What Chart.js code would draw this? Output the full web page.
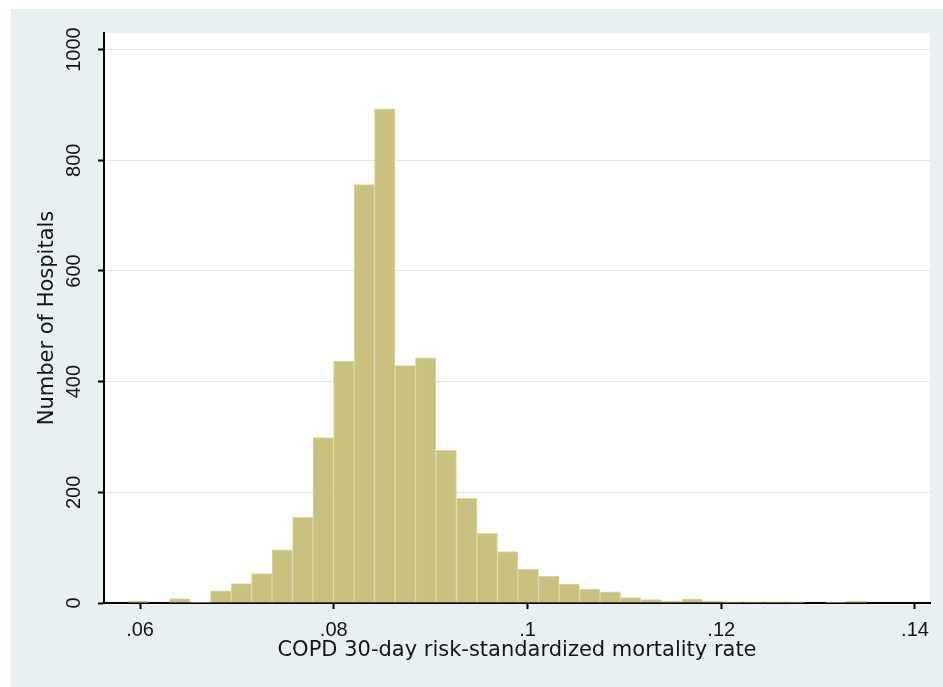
<!DOCTYPE html>
<html>
<head>
<meta charset="utf-8">
<script src="https://cdn.jsdelivr.net/npm/chart.js@4.4.1/dist/chart.umd.min.js"></script>
<style>
  html, body { margin: 0; padding: 0; background: #ffffff; }
  #frame {
    position: absolute;
    left: 11px;
    top: 9px;
    width: 932px;
    height: 678px;
    background: #e9f0f2;
  }
  canvas { display: block; }
</style>
</head>
<body>
<div id="frame"><canvas id="histChart" width="932" height="678"></canvas></div>
<script>
// Bin midpoints (30-day mortality rate)
const binMids = [
  0.05987, 0.06198, 0.06410, 0.06622, 0.06833, 0.07045, 0.07257, 0.07468,
  0.07680, 0.07891, 0.08103, 0.08315, 0.08526, 0.08738, 0.08949, 0.09161,
  0.09373, 0.09584, 0.09796, 0.10007, 0.10219, 0.10431, 0.10642, 0.10854,
  0.11065, 0.11277, 0.11489, 0.11700, 0.11912, 0.12123, 0.12335, 0.12547,
  0.12758, 0.12970, 0.13181, 0.13393, 0.13605
];

// Number of hospitals in each bin
const hospitalCounts = [
  3, 0, 8, 1, 22, 35, 53, 96,
  155, 299, 437, 756, 893, 429, 443, 276,
  189, 126, 93, 61, 48, 34, 25, 20,
  10, 6, 3, 7, 3, 2, 2, 2,
  2, 0, 1, 3, 0
];

// Axis ticks
const xTickValues = [0.06, 0.08, 0.1, 0.12, 0.14];
const xTickLabels = [".06", ".08", ".1", ".12", ".14"];
const yTickValues = [0, 200, 400, 600, 800, 1000];
const yTickLabels = ["0", "200", "400", "600", "800", "1000"];

// White plot region behind the bars
const plotBackground = {
  id: "plotBackground",
  beforeDraw(chart) {
    const { ctx, chartArea } = chart;
    ctx.save();
    ctx.fillStyle = "#ffffff";
    ctx.fillRect(
      chartArea.left,
      chartArea.top,
      chartArea.right - chartArea.left,
      chartArea.bottom - chartArea.top
    );
    ctx.restore();
  },
};

const tickFont = { family: "'Liberation Sans', Arial, sans-serif", size: 20 };
const titleFont = { family: "'DejaVu Sans', sans-serif", size: 21 };
const textColor = "#151515";

const ctx = document.getElementById("histChart").getContext("2d");
const histChart = new Chart(ctx, {
  type: "bar",
  data: {
    datasets: [
      {
        label: "Hospitals",
        data: binMids.map((x, i) => ({ x: x, y: hospitalCounts[i] })),
        backgroundColor: "#c9c17e",
        borderColor: "#ddd6a3",
        borderWidth: 1,
        barPercentage: 1,
        categoryPercentage: 1,
      },
    ],
  },
  options: {
    responsive: false,
    animation: false,
    layout: {
      padding: { top: 24, right: 13, left: 0, bottom: 0 },
    },
    scales: {
      x: {
        type: "linear",
        offset: false,
        min: 0.05628,
        max: 0.14155,
        afterBuildTicks: function (scale) {
          scale.ticks = xTickValues.map(v => ({ value: v }));
        },
        afterFit: function (scale) {
          scale.height = 84;
        },
        ticks: {
          autoSkip: false,
          maxRotation: 0,
          padding: 9,
          color: textColor,
          font: tickFont,
          callback: function (value, index) {
            return xTickLabels[index];
          },
        },
        grid: {
          offset: false,
          drawOnChartArea: false,
          drawTicks: true,
          tickLength: 6,
          tickWidth: 2,
          tickColor: "#000",
        },
        border: { display: true, color: "#000", width: 2 },
        title: {
          display: true,
          text: "COPD 30-day risk-standardized mortality rate",
          color: textColor,
          font: titleFont,
          padding: { top: 0, bottom: 24 },
        },
      },
      y: {
        type: "linear",
        min: 0,
        max: 1030,
        afterBuildTicks: function (scale) {
          scale.ticks = yTickValues.map(v => ({ value: v }));
        },
        afterFit: function (scale) {
          scale.width = 93;
        },
        ticks: {
          minRotation: 90,
          maxRotation: 90,
          crossAlign: "center",
          padding: 1,
          color: textColor,
          font: tickFont,
          callback: function (value, index) {
            return yTickLabels[index];
          },
        },
        grid: {
          color: "#e2e8ea",
          lineWidth: 1,
          drawTicks: true,
          tickLength: 6,
          tickWidth: 2,
          tickColor: "#000",
        },
        border: { display: true, color: "#000", width: 2 },
        title: {
          display: true,
          text: "Number of Hospitals",
          color: textColor,
          font: titleFont,
          padding: { top: 24, bottom: 0 },
        },
      },
    },
    plugins: {
      legend: { display: false },
      tooltip: { enabled: false },
    },
  },
  plugins: [plotBackground],
});
</script>
</body>
</html>
